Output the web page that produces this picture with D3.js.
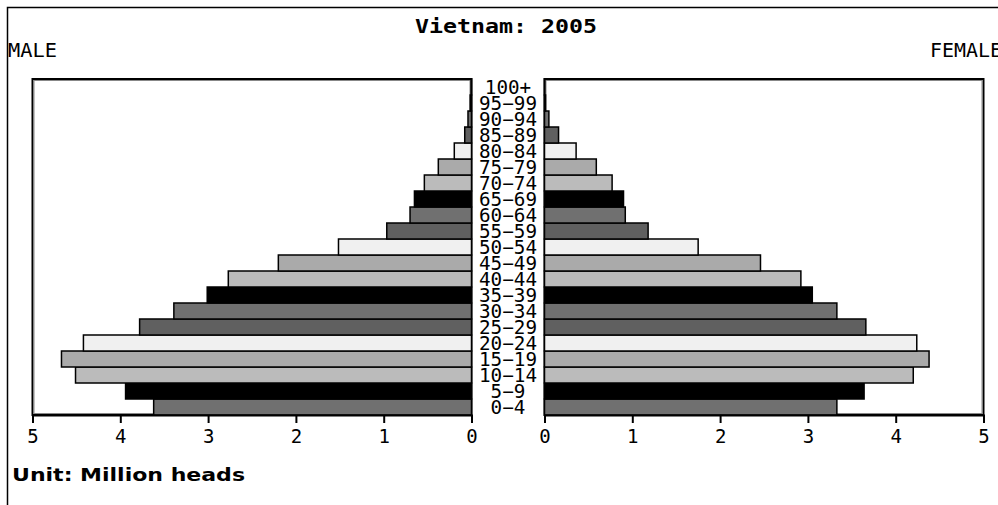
<!DOCTYPE html>
<html>
<head>
<meta charset="utf-8">
<script src="https://cdn.jsdelivr.net/npm/d3@7/dist/d3.min.js"></script>
<style>
  body { margin: 0; background: #fff; }
  svg { display: block; }
</style>
</head>
<body>
<div id="chart"></div>
<script>
// age groups, bottom to top
var ages = ["0-4", "5-9", "10-14", "15-19", "20-24", "25-29", "30-34", "35-39", "40-44",
    "45-49", "50-54", "55-59", "60-64", "65-69", "70-74", "75-79", "80-84", "85-89",
    "90-94", "95-99", "100+"];
// million heads
var male = [3.62, 3.94, 4.51, 4.67, 4.42, 3.78, 3.39, 3.01, 2.77, 2.2, 1.515, 0.965,
    0.7, 0.65, 0.537, 0.378, 0.196, 0.077, 0.04, 0.015, 0.005];
var female = [3.33, 3.64, 4.2, 4.38, 4.24, 3.66, 3.33, 3.05, 2.92, 2.46, 1.75, 1.18,
    0.92, 0.9, 0.77, 0.59, 0.36, 0.16, 0.05, 0.012, 0.004];
var ticks = [0, 1, 2, 3, 4, 5];
var shades = ["#707070", "#000000", "#bbbbbb", "#aaaaaa", "#f0f0f0", "#606060"];

var W = 998, H = 505;
var mono = "'DejaVu Sans Mono', monospace";

var svg = d3.select("#chart").append("svg")
    .attr("width", W)
    .attr("height", H);

// outer frame (left + top)
svg.append("path")
    .attr("d", "M7.5," + H + "V7.5H" + W)
    .attr("fill", "none")
    .attr("stroke", "#000")
    .attr("stroke-width", 1.5);

svg.append("text")
    .attr("x", 506).attr("y", 33)
    .attr("text-anchor", "middle")
    .attr("font-family", mono)
    .attr("font-weight", "bold")
    .attr("font-size", 20)
    .attr("textLength", 182)
    .attr("lengthAdjust", "spacingAndGlyphs")
    .text("Vietnam: 2005");

svg.append("text")
    .attr("x", 8).attr("y", 57)
    .attr("font-family", mono)
    .attr("font-size", 19)
    .attr("textLength", 49)
    .attr("lengthAdjust", "spacingAndGlyphs")
    .text("MALE");

svg.append("text")
    .attr("x", 930).attr("y", 57)
    .attr("font-family", mono)
    .attr("font-size", 19)
    .attr("textLength", 72)
    .attr("lengthAdjust", "spacingAndGlyphs")
    .text("FEMALE");

var plotTop = 79, plotBottom = 415;
var y = d3.scaleBand().domain(ages).range([plotBottom, plotTop]);
var xl = d3.scaleLinear().domain([0, 5]).range([471.5, 32.5]);
var xr = d3.scaleLinear().domain([0, 5]).range([544.5, 983.5]);

function panel(x, data) {
    var g = svg.append("g");
    var x0 = Math.min(x(0), x(5)), x1 = Math.max(x(0), x(5));

    // panel frame
    g.append("rect")
        .attr("x", x0).attr("y", plotTop)
        .attr("width", x1 - x0).attr("height", plotBottom - plotTop)
        .attr("fill", "#fff")
        .attr("stroke", "#000")
        .attr("stroke-width", 2);
    g.append("rect")
        .attr("x", x0 + 1.5).attr("y", plotTop + 1.5)
        .attr("width", x1 - x0 - 3).attr("height", plotBottom - plotTop - 3)
        .attr("fill", "none")
        .attr("stroke", "#888")
        .attr("stroke-width", 1);

    g.selectAll(".bar")
        .data(data)
        .enter().append("rect")
        .attr("class", "bar")
        .attr("x", function(d) { return Math.min(x(0), x(d)); })
        .attr("y", function(d, i) { return y(ages[i]); })
        .attr("width", function(d) { return Math.abs(x(d) - x(0)); })
        .attr("height", y.bandwidth())
        .attr("fill", function(d, i) { return shades[i % 6]; })
        .attr("stroke", "#000")
        .attr("stroke-width", 1.5);

    var axis = d3.axisBottom(x).tickValues(ticks).tickSize(8).tickPadding(7)
        .tickFormat(d3.format("d"));
    var ax = g.append("g")
        .attr("transform", "translate(0," + plotBottom + ")")
        .call(axis);
    ax.select(".domain").attr("stroke-width", 2);
    ax.selectAll(".tick line").attr("stroke-width", 2);
    ax.selectAll("text")
        .attr("font-family", mono)
        .attr("font-size", 19);
}

panel(xl, male);
panel(xr, female);

// age labels in the centre column
svg.append("g").selectAll("text")
    .data(ages)
    .enter().append("text")
    .attr("x", 508)
    .attr("y", function(d) { return y(d) + y.bandwidth() / 2 + 7; })
    .attr("text-anchor", "middle")
    .attr("font-family", mono)
    .attr("font-size", 19)
    .attr("textLength", function(d) { return d.length * 11.6; })
    .attr("lengthAdjust", "spacingAndGlyphs")
    .text(function(d) { return d.replace("-", "\u2212"); });

svg.append("text")
    .attr("x", 12).attr("y", 481)
    .attr("font-family", "'DejaVu Sans', sans-serif")
    .attr("font-weight", "bold")
    .attr("font-size", 18)
    .attr("textLength", 233)
    .attr("lengthAdjust", "spacingAndGlyphs")
    .text("Unit: Million heads");
</script>
</body>
</html>
